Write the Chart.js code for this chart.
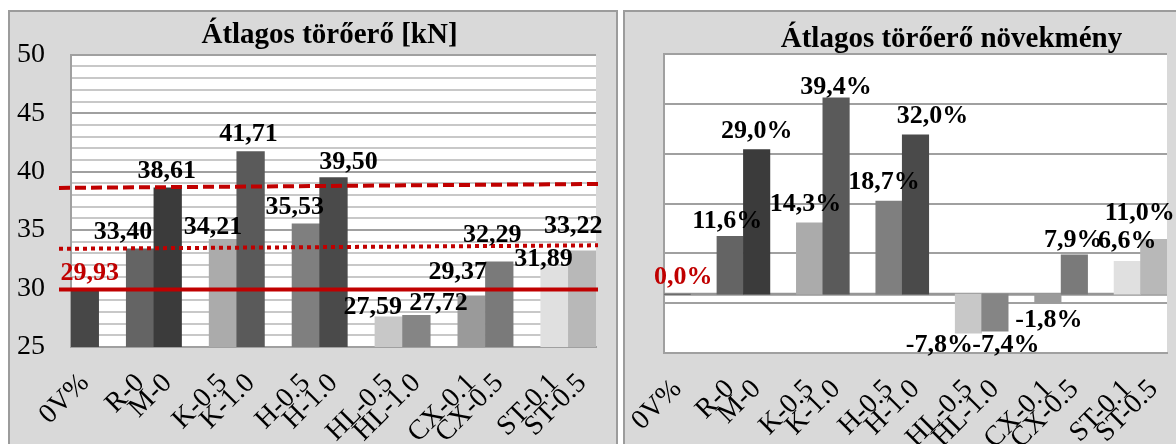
<!DOCTYPE html>
<html lang="hu">
<head>
<meta charset="utf-8">
<title>Átlagos törőerő</title>
<script src="https://cdn.jsdelivr.net/npm/chart.js@4.4.1/dist/chart.umd.min.js"></script>
<style>
    html, body { margin: 0; padding: 0; background: #fff; overflow: hidden; }
    body { width: 1176px; height: 444px; position: relative; }
    .panel {
        position: absolute;
        top: 10px;
        height: 440px;
        background: #d9d9d9;
        border: 2px solid #9c9c9c;
        border-bottom: none;
    }
    #panel-force { left: 8px; width: 606px; }
    #panel-gain { left: 623px; width: 560px; }
    canvas { display: block; }
</style>
</head>
<body>
<div class="panel" id="panel-force"><canvas id="forceChart" width="606" height="432"></canvas></div>
<div class="panel" id="panel-gain"><canvas id="gainChart" width="560" height="432"></canvas></div>

<script>
// Specimen groups, left to right
const specimens = ['0V%', 'R-0', 'M-0', 'K-0.5', 'K-1.0', 'H-0.5', 'H-1.0', 'HL-0.5', 'HL-1.0', 'CX-0.1', 'CX-0.5', 'ST-0.1', 'ST-0.5'];

// Average breaking force [kN]
const avgForce = [29.93, 33.40, 38.61, 34.21, 41.71, 35.53, 39.50, 27.59, 27.72, 29.37, 32.29, 31.89, 33.22];

// Increase of the breaking force compared to 0V% [%]
const forceGain = [0.0, 11.6, 29.0, 14.3, 39.4, 18.7, 32.0, -7.8, -7.4, -1.8, 7.9, 6.6, 11.0];

// Reference levels drawn across the force chart (left end, right end) [kN]
const refBase = [29.93, 29.93];
const refR0 = [33.40, 33.70];
const refM0 = [38.61, 38.95];

// Labelled ticks of the force axis
const forceTicks = [25, 30, 35, 40, 45, 50];

// Axis range of the increase chart (no labels, gridlines only)
const gainRange = [-11.8, 48.2];

// Styling
const barShades = ['#474747', '#646464', '#3b3b3b', '#ababab', '#5a5a5a', '#7f7f7f', '#4a4a4a', '#c8c8c8', '#858585', '#9a9a9a', '#7a7a7a', '#e0e0e0', '#b8b8b8'];
const labelInk = ['#c00000', '#000', '#000', '#000', '#000', '#000', '#000', '#000', '#000', '#000', '#000', '#000', '#000'];
const forceNudge = [[5, 1], [-17, 0], [-1, 0], [-10, 5], [-2, 0], [-11, 0], [15, 2], [-16, 8], [22, 5], [-14, -7], [-7, -10], [-11, 10], [-9, -8]];
const gainNudge = [[6, 0], [-3, 2], [0, -1], [-4, -2], [0, 6], [-5, -2], [17, -1], [-29, -5], [11, -3], [1, 0], [-1, 2], [0, -3], [-14, -9]];

const SERIF = '"Liberation Serif", "Times New Roman", serif';
const RED = '#c00000';
const GRID = '#a0a0a0';

// One empty slot after the reference bar and after every pair
function toSlots(values, blank) {
    const out = [];
    values.forEach((v, i) => {
        out.push(v);
        if (i % 2 === 0 && i < values.length - 1) out.push(blank);
    });
    return out;
}

// White plot area + chart title
const panelDecor = {
    id: 'panelDecor',
    beforeDraw(chart) {
        const { ctx, chartArea } = chart;
        ctx.save();
        ctx.fillStyle = '#fff';
        ctx.fillRect(chartArea.left, chartArea.top, chartArea.right - chartArea.left, chartArea.bottom - chartArea.top);
        ctx.restore();
    },
    afterDraw(chart, args, opts) {
        if (!opts.text) return;
        const { ctx, chartArea } = chart;
        ctx.save();
        ctx.font = 'bold ' + opts.size + 'px ' + SERIF;
        ctx.fillStyle = '#000';
        ctx.textAlign = 'center';
        ctx.textBaseline = 'alphabetic';
        ctx.fillText(opts.text, (chartArea.left + chartArea.right) / 2 + opts.dx, opts.baseline);
        ctx.restore();
    }
};

// Thick axis line at zero
const zeroLine = {
    id: 'zeroLine',
    beforeDatasetsDraw(chart, args, opts) {
        if (!opts.width) return;
        const { ctx, chartArea, scales } = chart;
        const y = scales.y.getPixelForValue(0);
        ctx.save();
        ctx.strokeStyle = opts.color;
        ctx.lineWidth = opts.width;
        ctx.beginPath();
        ctx.moveTo(chartArea.left, y);
        ctx.lineTo(chartArea.right, y);
        ctx.stroke();
        ctx.restore();
    }
};

// Red reference lines, slightly wider than the plot area
const refLines = {
    id: 'refLines',
    afterDatasetsDraw(chart, args, opts) {
        if (!opts.lines) return;
        const { ctx, chartArea, scales } = chart;
        const x0 = chartArea.left - 12;
        const x1 = chartArea.right + 2;
        ctx.save();
        opts.lines.forEach(line => {
            ctx.strokeStyle = line.color;
            ctx.lineWidth = line.width;
            ctx.setLineDash(line.dash);
            ctx.beginPath();
            ctx.moveTo(x0, scales.y.getPixelForValue(line.values[0]));
            ctx.lineTo(x1, scales.y.getPixelForValue(line.values[1]));
            ctx.stroke();
        });
        ctx.restore();
    }
};

// Value labels above (or below) each bar
const barValues = {
    id: 'barValues',
    afterDatasetsDraw(chart, args, opts) {
        const meta = chart.getDatasetMeta(0);
        const values = chart.data.datasets[0].data;
        const { ctx } = chart;
        ctx.save();
        ctx.font = 'bold ' + opts.size + 'px ' + SERIF;
        ctx.textAlign = 'center';
        ctx.textBaseline = 'middle';
        let n = 0;
        meta.data.forEach((bar, i) => {
            const v = values[i];
            if (v === null) return;
            const text = v.toFixed(opts.decimals).replace('.', ',') + opts.suffix;
            const nudge = opts.nudges[n];
            const y = v < 0 ? bar.y + opts.gap : bar.y - opts.gap;
            ctx.fillStyle = labelInk[n];
            ctx.fillText(text, bar.x + nudge[0], y + nudge[1]);
            n++;
        });
        ctx.restore();
    }
};

const tickFont = { family: SERIF, size: 28 };

function xAxis(height) {
    return {
        grid: { display: false, drawTicks: false },
        border: { color: GRID, width: 2 },
        ticks: {
            font: tickFont,
            color: '#000',
            minRotation: 45,
            maxRotation: 45,
            autoSkip: false,
            padding: 20
        },
        // fixed axis band; the rotated labels may spill sideways
        afterFit(scale) {
            scale.height = height;
            scale.paddingLeft = 0;
            scale.paddingRight = 0;
        }
    };
}

// Átlagos törőerő [kN]
new Chart(document.getElementById('forceChart'), {
    type: 'bar',
    data: {
        labels: toSlots(specimens, ''),
        datasets: [{
            data: toSlots(avgForce, null),
            backgroundColor: toSlots(barShades, 'rgba(0,0,0,0)'),
            barPercentage: 1,
            categoryPercentage: 1
        }]
    },
    options: {
        responsive: false,
        animation: false,
        layout: { padding: { left: 0, right: 20, top: 40, bottom: 0 } },
        plugins: {
            legend: { display: false },
            tooltip: { enabled: false },
            panelDecor: { text: 'Átlagos törőerő [kN]', size: 29, dx: -4, baseline: 31 },
            refLines: {
                lines: [
                    { values: refBase, color: RED, width: 4, dash: [] },
                    { values: refR0, color: RED, width: 4, dash: [4, 4] },
                    { values: refM0, color: RED, width: 4, dash: [11, 5] }
                ]
            },
            barValues: { size: 26, decimals: 2, suffix: '', gap: 17, nudges: forceNudge }
        },
        scales: {
            x: xAxis(97),
            y: {
                min: 25,
                max: 50,
                grid: {
                    drawTicks: false,
                    lineWidth: 2,
                    color: c => (c.tick && Math.round(c.tick.value) % 5 === 0) ? GRID : '#c8c8c8'
                },
                border: { color: GRID, width: 2 },
                ticks: {
                    stepSize: 1,
                    autoSkip: false,
                    padding: 26,
                    font: tickFont,
                    color: '#000',
                    callback: v => forceTicks.includes(Math.round(v)) ? String(Math.round(v)) : ''
                },
                afterFit(scale) { scale.width = 61; }
            }
        }
    },
    plugins: [panelDecor, refLines, barValues]
});

// Átlagos törőerő növekmény
new Chart(document.getElementById('gainChart'), {
    type: 'bar',
    data: {
        labels: toSlots(specimens, ''),
        datasets: [{
            data: toSlots(forceGain, null),
            backgroundColor: toSlots(barShades, 'rgba(0,0,0,0)'),
            barPercentage: 1,
            categoryPercentage: 1
        }]
    },
    options: {
        responsive: false,
        animation: false,
        layout: { padding: { left: 0, right: 18, top: 42, bottom: 0 } },
        plugins: {
            legend: { display: false },
            tooltip: { enabled: false },
            panelDecor: { text: 'Átlagos törőerő növekmény', size: 29, dx: 36, baseline: 35 },
            zeroLine: { color: '#969696', width: 3 },
            barValues: { size: 26, decimals: 1, suffix: '%', gap: 17, nudges: gainNudge }
        },
        scales: {
            x: xAxis(91),
            y: {
                min: gainRange[0],
                max: gainRange[1],
                grid: { drawTicks: false, lineWidth: 2, color: GRID },
                border: { color: GRID, width: 2 },
                ticks: { display: false, stepSize: 10 },
                afterFit(scale) { scale.width = 39; }
            }
        }
    },
    plugins: [panelDecor, zeroLine, barValues]
});
</script>
</body>
</html>
